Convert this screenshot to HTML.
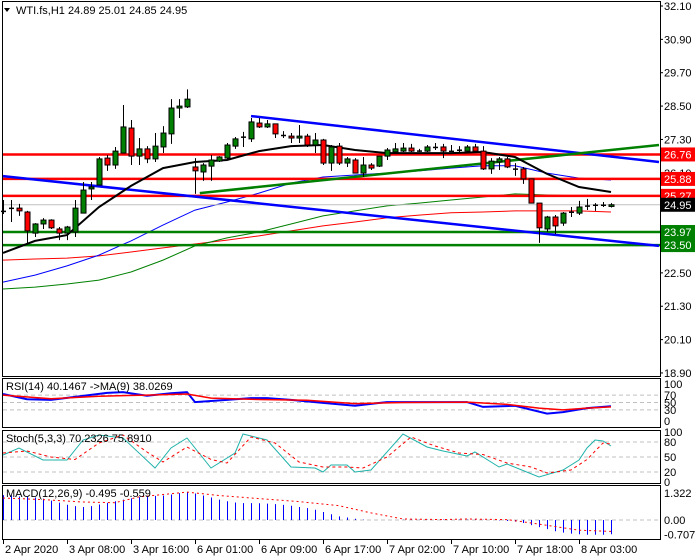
<!DOCTYPE html>
<html><head><meta charset="utf-8"><style>
body{margin:0;background:#fff;width:700px;height:560px;overflow:hidden}
svg{display:block;font-family:"Liberation Sans",sans-serif;font-size:11px}
</style></head><body>
<svg id="c" width="700" height="560"></svg>
<script>
// ---- data ----
const opens=[24.70,24.82,24.83,24.69,23.93,24.26,24.40,24.08,23.93,23.97,24.65,25.52,25.66,26.63,26.38,26.81,27.71,26.70,26.96,26.60,27.03,27.50,28.43,28.47,26.31,26.13,26.34,26.52,26.63,27.06,27.37,27.32,27.89,27.75,27.86,27.46,27.42,27.35,27.42,27.10,27.28,26.45,27.06,26.45,26.56,26.09,26.38,26.34,26.70,26.85,26.88,26.99,26.88,26.88,27.02,27.03,26.88,26.92,26.88,27.03,26.88,26.24,26.49,26.60,26.25,26.24,25.88,25.01,24.08,24.51,24.29,24.68,24.65,24.90,24.94,24.93,24.89];
const highs=[25.12,25.12,24.98,24.73,24.29,24.47,24.43,24.15,24.19,25.12,25.77,25.77,26.67,26.74,27.03,28.54,28.00,27.35,27.06,27.53,27.78,28.75,28.75,29.10,26.63,26.45,26.74,26.70,27.17,27.39,27.57,28.07,28.07,28.00,27.86,27.60,27.53,27.82,27.50,27.53,27.32,27.10,27.17,26.67,26.63,26.67,26.45,26.70,26.99,27.17,27.17,27.14,26.96,27.10,27.17,27.14,27.10,27.06,27.10,27.14,27.06,26.63,26.67,26.67,26.45,26.31,25.88,25.01,24.55,24.58,24.69,24.87,25.09,25.16,25.01,25.05,25.01];
const lows=[24.62,24.33,24.55,23.58,23.79,24.08,24.08,23.68,23.68,23.79,24.65,25.12,25.66,26.17,26.24,26.81,26.38,26.38,26.45,26.49,26.81,27.14,28.07,28.43,25.34,25.81,25.81,26.49,26.56,26.96,27.03,27.21,27.71,27.71,27.35,27.35,27.17,27.17,27.03,26.81,26.38,26.17,26.38,26.31,26.09,25.95,26.20,26.31,26.56,26.81,26.85,26.85,26.85,26.85,26.92,26.63,26.85,26.85,26.85,26.85,26.20,26.06,26.20,26.27,25.99,25.70,25.01,23.58,23.97,23.90,24.19,24.51,24.58,24.76,24.73,24.87,24.85];
const closes=[24.73,24.84,24.73,24.01,24.26,24.40,24.12,23.93,24.15,24.83,25.48,25.59,26.60,26.38,26.88,27.75,26.70,26.96,26.60,27.06,27.53,28.43,28.50,28.75,26.17,26.38,26.56,26.67,27.10,27.32,27.40,27.93,27.75,27.86,27.50,27.44,27.35,27.42,27.10,27.28,26.45,27.03,26.45,26.60,26.09,26.38,26.27,26.70,26.92,26.96,26.99,26.88,26.90,27.03,27.03,26.88,26.89,26.93,27.03,26.88,26.24,26.52,26.60,26.31,26.23,25.88,25.01,24.12,24.51,24.19,24.65,24.70,24.87,24.92,24.95,24.95,24.95];
const maIdx=[0,4,8,12,16,20,24,28,32,36,40,44,48,52,56,60,64,68,72,76];
const maBlack=[23.22,23.65,23.86,24.87,25.63,26.27,26.49,26.56,26.88,27.06,27.10,26.92,26.81,26.81,26.81,26.85,26.67,26.06,25.59,25.41];
const maBlue=[22.17,22.42,22.75,23.14,23.65,24.22,24.76,25.05,25.37,25.73,25.95,26.02,26.09,26.17,26.27,26.35,26.35,26.09,25.91,25.84];
const maGreen=[21.92,21.99,22.10,22.24,22.53,22.96,23.47,23.76,23.97,24.26,24.55,24.73,24.91,25.01,25.12,25.23,25.34,25.30,25.27,25.27];
const maRed=[22.96,23.00,23.03,23.11,23.25,23.40,23.54,23.68,23.83,24.01,24.19,24.33,24.48,24.58,24.66,24.69,24.73,24.73,24.73,24.69];
const hLevelsRed=[26.76,25.88,25.27];
const hLevelsGreen=[23.97,23.50];
const lastPrice=24.95;
const priceTicks=[32.10,30.90,29.70,28.50,27.30,26.10,24.90,23.70,22.50,21.30,20.10,18.90];
const trendBlueUpper=[[31,28.14],[82,26.49]];
const trendBlueLower=[[0,25.98],[82,23.47]];
const trendGreen=[[24.6,25.37],[82,27.10]];
const rsiIdx=[0,3,6,9,13,15,18,21,23,24,28,31,33,36,40,44,48,50,58,60,64,68,70,73,76];
const rsiVals=[73,59,57,65,76,78,68,75,78,51,57,62,62,57,49,41,51,51,51,38,41,20,24,35,40];
const rsiMaIdx=[0,6,12,18,23,26,32,38,44,50,58,63,67,70,73,76];
const rsiMaVals=[70,60,67,70,73,62,58,56,47,50,51,45,35,30,35,38];
const rsiLevels=[70,50,30];
const rsiTicks=["100","70","50","30","0"];
const stIdx=[0,2,5,8,10,12,15,19,21,23,26,29,30,33,36,39,40,41,43,44,46,50,53,55,58,59,62,63,67,70,72,73,74,75,76];
const stMain=[54,68,44,44,84,94,88,28,68,88,28,58,96,84,30,28,20,34,34,20,24,96,70,62,52,60,30,36,10,24,44,68,84,82,72];
const sgIdx=[0,3,6,9,12,15,18,20,23,26,28,31,34,37,40,43,45,48,51,54,57,60,63,66,68,71,73,75,76];
const stSig=[58,62,50,45,78,94,60,40,70,45,38,90,78,40,30,30,28,50,90,72,58,55,38,30,18,24,45,78,76];
const stLevels=[80,50,20];
const macdHist=[1.22,1.20,1.15,1.13,1.10,1.05,0.95,0.85,0.75,0.68,0.64,0.68,0.76,0.84,0.92,1.00,1.06,1.12,1.15,1.18,1.20,1.25,1.32,1.37,1.30,1.20,1.10,1.00,0.92,0.86,0.83,0.83,0.82,0.80,0.78,0.74,0.70,0.64,0.58,0.50,0.39,0.28,0.18,0.12,0.06,0.02,0,0,0,0,0.01,0.01,0.01,0.01,0.01,0.02,0.02,0.02,0.02,0.02,0.01,0,-0.02,-0.05,-0.08,-0.15,-0.25,-0.35,-0.45,-0.55,-0.62,-0.67,-0.70,-0.72,-0.72,-0.72,-0.70];
const macdSigIdx=[0,5,10,14,17,23,27,31,37,42,46,50,55,58,63,67,72,76];
const macdSig=[1.08,1.0,0.88,0.85,1.13,1.37,1.2,1.08,0.9,0.7,0.35,0.05,0.02,0.05,0.02,-0.2,-0.5,-0.56];
const timeLabels=["2 Apr 2020","3 Apr 08:00","3 Apr 16:00","6 Apr 01:00","6 Apr 09:00","6 Apr 17:00","7 Apr 02:00","7 Apr 10:00","7 Apr 18:00","8 Apr 03:00"];
const timeIdx=[0,8,16,24,32,40,48,56,64,72];

// ---- axes ----
const X=i=>3+i*8;
const YP=p=>6+(32.10-p)*27.8;
const YR=v=>421-0.37*v;
const YS=v=>482-0.5*v;
const YM=v=>520-20.4*v;
const svg=document.getElementById('c');
const NS='http://www.w3.org/2000/svg';
function mk(tag,attrs,parent){const e=document.createElementNS(NS,tag);for(const k in attrs)e.setAttribute(k,attrs[k]);(parent||svg).appendChild(e);return e;}
function poly(idx,vals,yf,stroke,w,dash,name){
  const pts=idx.map((i,k)=>X(i)+','+yf(vals[k]).toFixed(1)).join(' ');
  const e=mk('polyline',{points:pts,fill:'none',stroke:stroke,'stroke-width':w});
  if(dash)e.setAttribute('stroke-dasharray',dash);
  
  
  return e;
}
// panels
const panels=[[2,1,376,'main-panel'],[2,378,427,'rsi-panel'],[2,430,483,'stoch-panel'],[2,485,539,'macd-panel']];
panels.forEach(p=>{const r=mk('rect',{x:p[0]+.5,y:p[1]+.5,width:658,height:p[2]-p[1],fill:'#fff',stroke:'#000'});
});
// price ticks
priceTicks.forEach(p=>{const t=mk('text',{x:664,y:YP(p)+4,fill:'#000'});t.textContent=p.toFixed(2);

mk('line',{x1:660,x2:663,y1:YP(p),y2:YP(p),stroke:'#000'});});
// MAs
poly(maIdx,maRed,YP,'#ff0000',1,null,'ma-red');
poly(maIdx,maGreen,YP,'#008000',1,null,'ma-green');
poly(maIdx,maBlue,YP,'#0000ff',1,null,'ma-blue');
// last price line
const lp=mk('line',{x1:3,x2:660,y1:YP(lastPrice),y2:YP(lastPrice),stroke:'#c0c0c0'});

// horizontal levels
hLevelsRed.forEach(v=>{const l=mk('line',{x1:3,x2:660,y1:YP(v),y2:YP(v),stroke:'#ff0000','stroke-width':2.5});
});
hLevelsGreen.forEach(v=>{const l=mk('line',{x1:3,x2:660,y1:YP(v),y2:YP(v),stroke:'#008000','stroke-width':2.5});
});
// trendlines
[[trendBlueUpper,'#0000ff','upper-trendline'],[trendBlueLower,'#0000ff','lower-trendline'],[trendGreen,'#008000','green-trendline']].forEach(t=>{
 const l=mk('line',{x1:X(t[0][0][0]),y1:YP(t[0][0][1]),x2:Math.min(659,X(t[0][1][0])),y2:YP(t[0][1][1]),stroke:t[1],'stroke-width':2.5});
 });
poly(maIdx,maBlack,YP,'#000',2,null,'ma-black');
// candles
opens.forEach((o,i)=>{const c=closes[i],x=X(i);
 const g=mk('g',{});
 mk('line',{x1:x+.5,x2:x+.5,y1:YP(highs[i]),y2:YP(lows[i]),stroke:'#000'},g);
 const top=YP(Math.max(o,c)),bot=YP(Math.min(o,c));
 if(bot-top<1.5){mk('line',{x1:x-2,x2:x+3,y1:top+.5,y2:top+.5,stroke:'#000','stroke-width':1.5},g);}
 else mk('rect',{x:x-2,y:top,width:5,height:bot-top,fill:c>=o?'#008000':'#ff0000',stroke:'#000','stroke-width':1},g);
});
// price boxes
function box(v,col,name){const y=YP(v);const r=mk('rect',{x:661,y:y-7,width:34,height:14,fill:col});
 
 const t=mk('text',{x:664,y:y+4,fill:'#fff'});t.textContent=v.toFixed(2);
 }
hLevelsRed.forEach(v=>box(v,'#ff0000','resistance-label'));
box(lastPrice,'#000','last-price-label');
hLevelsGreen.forEach(v=>box(v,'#008000','support-label'));
// title
mk('polygon',{points:'4,8 10,8 7,12',fill:'#000'});
const tt=mk('text',{x:16,y:14,fill:'#000'});tt.textContent='WTI.fs,H1  24.89 25.01 24.85 24.95';
tt.setAttribute('xml:space','preserve');
// RSI
rsiLevels.forEach(v=>mk('line',{x1:3,x2:660,y1:YR(v),y2:YR(v),stroke:'#c0c0c0','stroke-dasharray':'4,3'}));
[100,70,50,30,0].forEach((v,k)=>{const t=mk('text',{x:664,y:YR(v)+4});t.textContent=rsiTicks[k];
 });
poly(rsiIdx,rsiVals,YR,'#0000ff',2,null,'rsi-line');
poly(rsiMaIdx,rsiMaVals,YR,'#ff0000',1.5,null,'rsi-ma-line');
const rl=mk('text',{x:6,y:390});rl.textContent='RSI(14) 40.1467  ->MA(9) 38.0269';
rl.setAttribute('xml:space','preserve');
// Stoch
stLevels.forEach(v=>mk('line',{x1:3,x2:660,y1:YS(v),y2:YS(v),stroke:'#c0c0c0','stroke-dasharray':'4,3'}));
[[100,'100'],[80,'80'],[50,'50'],[20,'20'],[0,'0']].forEach(a=>{const t=mk('text',{x:664,y:YS(a[0])+4});t.textContent=a[1];
 });
poly(stIdx,stMain,YS,'#20b2aa',1,null,'stoch-main');
poly(sgIdx,stSig,YS,'#ff0000',1,'3,3','stoch-signal');
const sl=mk('text',{x:6,y:442});sl.textContent='Stoch(5,3,3) 70.2326 75.8910';

// MACD
mk('line',{x1:3,x2:660,y1:YM(0),y2:YM(0),stroke:'#c0c0c0','stroke-dasharray':'4,3'});
[[1.322,'1.322'],[0,'0.00'],[-0.707,'-0.707']].forEach(a=>{const t=mk('text',{x:664,y:YM(a[0])+4});t.textContent=a[1];
 });
macdHist.forEach((v,i)=>{const l=mk('line',{x1:X(i)+.5,x2:X(i)+.5,y1:YM(0),y2:YM(v),stroke:'#0000ff'});
 });
poly(macdSigIdx,macdSig,YM,'#ff0000',1,'2,3','macd-signal');
const ml=mk('text',{x:6,y:497});ml.textContent='MACD(12,26,9) -0.495 -0.559';

// time axis
timeIdx.forEach((i,k)=>{const x=X(i);mk('line',{x1:x+.5,x2:x+.5,y1:540,y2:544,stroke:'#000'});
 const t=mk('text',{x:x+2,y:553});t.textContent=timeLabels[k];
 });
</script>
</body></html>
